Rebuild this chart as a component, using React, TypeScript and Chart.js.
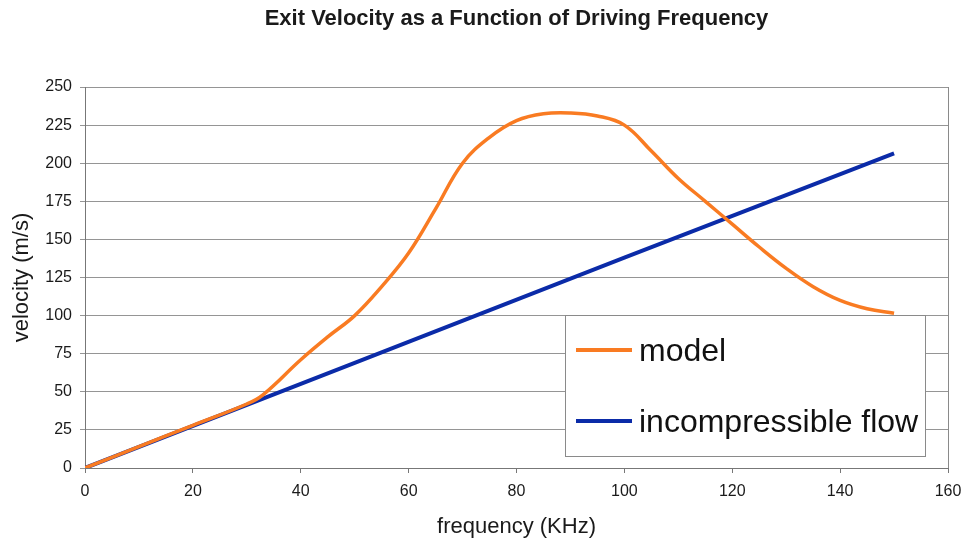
import React, { useEffect, useRef } from "react";
import { Chart, registerables } from "chart.js";

Chart.register(...registerables);

const TITLE = "Exit Velocity as a Function of Driving Frequency";
const X_TITLE = "frequency (KHz)";
const Y_TITLE = "velocity (m/s)";

const modelFreq = [0, 10, 20, 30, 33, 40, 45, 50, 55, 60, 65, 70, 75, 80, 85, 90, 95, 100, 105, 110, 115, 120, 125, 130, 135, 140, 145, 150];
const modelVel = [0, 14, 28, 42, 48, 71, 86, 100, 119, 141, 170, 200, 217, 228, 232.5, 233, 231, 225, 208, 190, 175, 160, 145, 131, 119, 110, 104.5, 101.5];

const flowFreq = [0, 50, 100, 150];
const flowVel = [0, 69, 138, 206.5];

const xTicks = [0, 20, 40, 60, 80, 100, 120, 140, 160];
const yTicks = [0, 25, 50, 75, 100, 125, 150, 175, 200, 225, 250];

const legendLabels = ["model", "incompressible flow"];

const ORANGE = "#F97B22";
const BLUE = "#0B2BA8";
const FONT = "'Liberation Sans', Arial, sans-serif";

export default function App() {
  const ref = useRef<HTMLCanvasElement | null>(null);

  useEffect(() => {
    document.body.style.margin = "0";
    const canvas = ref.current;
    if (!canvas) return;

    const legendPlugin = {
      id: "boxLegend",
      afterDatasetsDraw(chart: any) {
        const ctx = chart.ctx;
        const x0 = 565, y0 = 315, x1 = 925, y1 = 456;
        ctx.save();
        ctx.fillStyle = "#ffffff";
        ctx.fillRect(x0, y0, x1 - x0, y1 - y0);
        ctx.strokeStyle = "#8a8a8a";
        ctx.lineWidth = 1;
        ctx.strokeRect(x0 + 0.5, y0 + 0.5, x1 - x0, y1 - y0);
        const colors = [ORANGE, BLUE];
        const ys = [350, 421];
        ctx.font = `32px ${FONT}`;
        ctx.textBaseline = "middle";
        ctx.textAlign = "left";
        for (let i = 0; i < legendLabels.length; i++) {
          ctx.strokeStyle = colors[i];
          ctx.lineWidth = 4;
          ctx.beginPath();
          ctx.moveTo(576, ys[i]);
          ctx.lineTo(632, ys[i]);
          ctx.stroke();
          ctx.fillStyle = "#111111";
          ctx.fillText(legendLabels[i], 639, ys[i] + 2);
        }
        ctx.restore();
      },
      beforeDatasetsDraw(chart: any) {
        const { ctx, chartArea } = chart;
        ctx.save();
        ctx.strokeStyle = "#8a8a8a";
        ctx.lineWidth = 1;
        ctx.beginPath();
        ctx.moveTo(Math.round(chartArea.right) + 0.5, chartArea.top);
        ctx.lineTo(Math.round(chartArea.right) + 0.5, chartArea.bottom);
        ctx.stroke();
        ctx.restore();
      },
    };

    const chart = new Chart(canvas, {
      type: "line",
      data: {
        datasets: [
          {
            label: legendLabels[0],
            data: modelFreq.map((f, i) => ({ x: f, y: modelVel[i] })),
            borderColor: ORANGE,
            borderWidth: 3.5,
            pointRadius: 0,
            tension: 0.4,
            fill: false,
          },
          {
            label: legendLabels[1],
            data: flowFreq.map((f, i) => ({ x: f, y: flowVel[i] })),
            borderColor: BLUE,
            borderWidth: 4,
            pointRadius: 0,
            tension: 0,
            fill: false,
          },
        ],
      },
      options: {
        responsive: false,
        animation: false,
        layout: { padding: { left: 0, right: 17, top: 0, bottom: 0 } },
        plugins: {
          legend: { display: false },
          tooltip: { enabled: false },
          title: {
            display: true,
            text: TITLE,
            fullSize: false,
            color: "#1a1a1a",
            font: { family: FONT, size: 22, weight: "bold" },
            padding: { top: 6, bottom: 54.6 },
          },
        },
        scales: {
          x: {
            type: "linear",
            min: 0,
            max: 160,
            afterBuildTicks: (scale: any) => {
              scale.ticks = xTicks.map((v) => ({ value: v }));
            },
            afterFit: (scale: any) => {
              scale.height = 74;
              scale.paddingRight = 0;
              scale.paddingLeft = 0;
            },
            grid: {
              drawOnChartArea: false,
              drawTicks: true,
              tickLength: 5,
              color: "#777777",
            },
            border: { display: true, color: "#777777", width: 1 },
            ticks: {
              color: "#1a1a1a",
              font: { family: FONT, size: 16 },
              padding: 9,
              maxRotation: 0,
            },
            title: {
              display: true,
              text: X_TITLE,
              color: "#1a1a1a",
              font: { family: FONT, size: 22 },
              padding: { top: 0, bottom: 2 },
            },
          },
          y: {
            type: "linear",
            min: 0,
            max: 250,
            afterBuildTicks: (scale: any) => {
              scale.ticks = yTicks.map((v) => ({ value: v }));
            },
            afterFit: (scale: any) => {
              scale.width = 85;
            },
            grid: {
              drawOnChartArea: true,
              drawTicks: true,
              tickLength: 5,
              color: "#959595",
              lineWidth: 1,
            },
            border: { display: true, color: "#777777", width: 1 },
            ticks: {
              color: "#1a1a1a",
              font: { family: FONT, size: 16 },
              padding: 8,
            },
            title: {
              display: true,
              text: Y_TITLE,
              color: "#1a1a1a",
              font: { family: FONT, size: 22 },
              padding: { top: 9, bottom: 0 },
            },
          },
        },
      },
      plugins: [legendPlugin],
    });

    return () => chart.destroy();
  }, []);

  return <canvas ref={ref} width={965} height={542} style={{ display: "block" }} />;
}
